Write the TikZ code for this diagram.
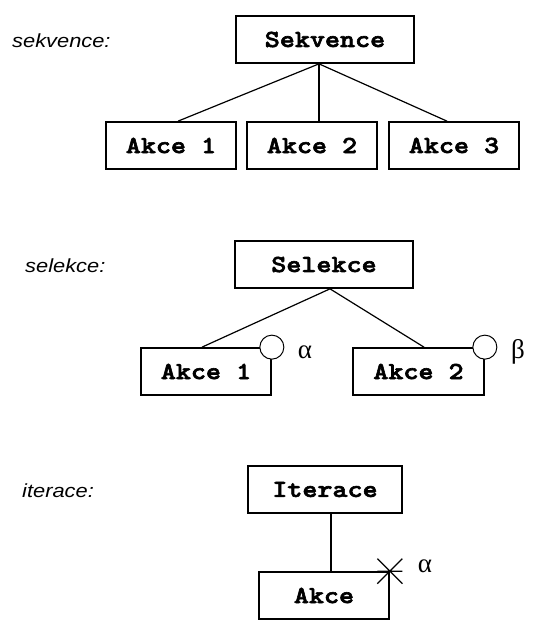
\documentclass[tikz,border=0pt]{standalone}
\usepackage{fontspec}
\newfontfamily\boxfont[FakeStretch=1.17,FakeBold=2.5]{lmmonolt10-bold.otf}
\newfontfamily\labfont[FakeStretch=1.15]{Liberation Sans}
\newfontfamily\grkfont{Liberation Serif}
\begin{document}
\begin{tikzpicture}[x=1pt,y=-1pt,
  box/.style={draw, line width=1.7pt, inner sep=0pt, minimum height=47pt,
    font=\boxfont\fontsize{24.5}{24.5}\selectfont},
  conn/.style={line width=1.2pt},
  lab/.style={anchor=west, inner sep=0pt, font=\labfont\itshape\fontsize{19}{19}\selectfont},
  grk/.style={inner sep=0pt, font=\grkfont\fontsize{27}{27}\selectfont},
  sel/.style={draw, line width=1pt, fill=white, circle, minimum size=24pt, inner sep=0pt}]
\useasboundingbox (0,0) rectangle (538,629);
% sekvence
\node[lab] (lsek) at (12,41) {sekvence:};
\node[box, minimum width=178pt] (sek) at (325,39.5) {Sekvence};
\node[box, minimum width=130pt] (a1) at (171,145.5) {Akce 1};
\node[box, minimum width=130pt] (a2) at (312,145.5) {Akce 2};
\node[box, minimum width=130pt] (a3) at (454,145.5) {Akce 3};
\coordinate (j1) at ([xshift=-6pt]sek.south);
\draw[conn] (j1) -- ([xshift=7pt]a1.north);
\draw[conn] (j1) -- ([xshift=7pt]a2.north);
\draw[conn] (j1) -- ([xshift=-7pt]a3.north);
% selekce
\node[lab] (lsel) at (25,266) {selekce:};
\node[box, minimum width=178pt] (sel) at (324,264.5) {Selekce};
\node[box, minimum width=130pt] (b1) at (206,371.5) {Akce 1};
\node[box, minimum width=131pt] (b2) at (418.5,371.5) {Akce 2};
\coordinate (j2) at ([xshift=6pt]sel.south);
\draw[conn] (j2) -- ([xshift=-4pt]b1.north);
\draw[conn] (j2) -- ([xshift=5.5pt]b2.north);
\node[sel] (c1) at (b1.north east) {};
\node[sel] (c2) at (b2.north east) {};
\node[grk] (alpha1) at (305,352) {α};
\node[grk] (beta) at (518,352) {β};
% iterace
\node[lab] (lit) at (22,491) {iterace:};
\node[box, minimum width=154pt] (it) at (325,489.5) {Iterace};
\node[box, minimum width=130pt] (ak) at (324,595.5) {Akce};
\draw[conn] ([xshift=6pt]it.south) -- ([xshift=7pt]ak.north);
\coordinate (st) at (ak.north east);
\draw[line width=1.2pt] ([shift={(-12.5,-12.5)}]st) -- ([shift={(12.5,12.5)}]st)
  ([shift={(12.5,-12.5)}]st) -- ([shift={(-12.5,12.5)}]st)
  ([shift={(-12.5,0)}]st) -- ([shift={(12.5,0)}]st);
\node[grk] (alpha2) at (425,566) {α};
\end{tikzpicture}
\end{document}
